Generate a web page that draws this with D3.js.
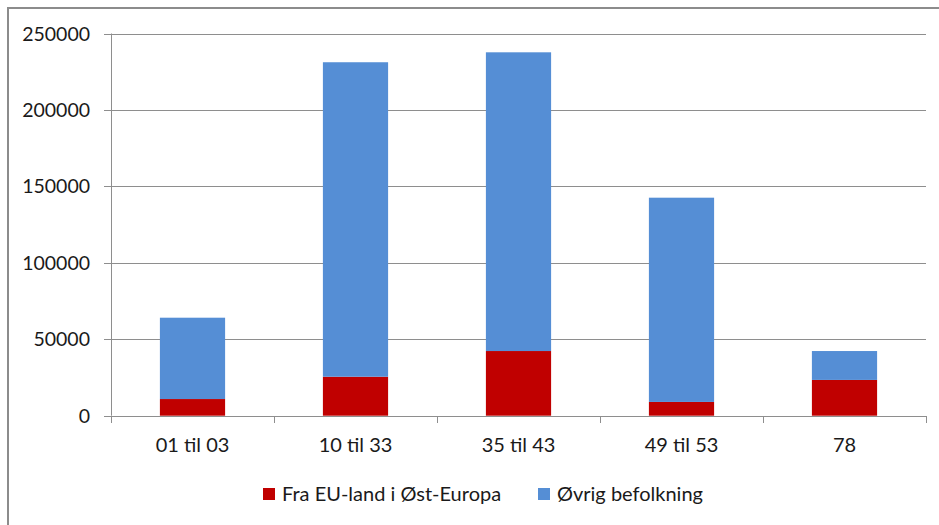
<!DOCTYPE html>
<html>
<head>
<meta charset="utf-8">
<script src="https://cdn.jsdelivr.net/npm/d3@7"></script>
<style>
  body { margin: 0; background: #fff; }
  svg text { font-family: Lato, "Open Sans", sans-serif; fill: #1a1a1a; }
</style>
</head>
<body>
<div id="chart"></div>
<script>
// data
const categories = ["01 til 03", "10 til 33", "35 til 43", "49 til 53", "78"];
const fraEU = [10900, 25500, 42300, 9000, 23400];
const ovrig = [53200, 205700, 195400, 133600, 18900];
const seriesNames = ["Fra EU-land i Øst-Europa", "Øvrig befolkning"];
const yTicks = [0, 50000, 100000, 150000, 200000, 250000];

const colors = ["#c00000", "#558ed5"];

const W = 939, H = 525;
const plot = {left: 111, right: 926, top: 33.5, bottom: 415.7};

const svg = d3.select("#chart").append("svg")
    .attr("width", W)
    .attr("height", H);

// outer frame (cropped on right and bottom)
svg.append("path")
    .attr("d", `M8,${H} L8,8 L${W},8`)
    .attr("fill", "none")
    .attr("stroke", "#8c8c8c")
    .attr("stroke-width", 2);

const x = d3.scaleBand()
    .domain(categories)
    .range([plot.left, plot.right])
    .paddingInner(0.6)
    .paddingOuter(0.3);

const y = d3.scaleLinear()
    .domain([0, 250000])
    .range([plot.bottom, plot.top]);

// gridlines
svg.append("g")
    .selectAll("line")
    .data(yTicks)
    .join("line")
    .attr("x1", plot.left - 7)
    .attr("x2", plot.right)
    .attr("y1", d => Math.round(y(d)) + 0.5)
    .attr("y2", d => Math.round(y(d)) + 0.5)
    .attr("stroke", "#8e8e8e")
    .attr("stroke-width", 1);

// y labels
svg.append("g")
    .selectAll("text")
    .data(yTicks)
    .join("text")
    .attr("x", 90)
    .attr("y", d => y(d))
    .attr("dy", "0.36em")
    .attr("text-anchor", "end")
    .attr("font-size", "19.5px")
    .text(d => d);

// stacked bars
const table = categories.map((c, i) => ({cat: c, a: fraEU[i], b: ovrig[i]}));
const stack = d3.stack().keys(["a", "b"])(table);

svg.append("g")
    .selectAll("g")
    .data(stack)
    .join("g")
    .attr("fill", (d, i) => colors[i])
    .selectAll("rect")
    .data(d => d)
    .join("rect")
    .attr("x", d => x(d.data.cat))
    .attr("width", x.bandwidth())
    .attr("y", d => y(d[1]))
    .attr("height", d => y(d[0]) - y(d[1]));

// axes lines
const step = x.step();
const bounds = d3.range(categories.length + 1).map(i => plot.left + i * step);
svg.append("line")
    .attr("x1", plot.left + 0.5).attr("x2", plot.left + 0.5)
    .attr("y1", plot.top).attr("y2", plot.bottom)
    .attr("stroke", "#8e8e8e");
svg.append("line")
    .attr("x1", plot.left - 7).attr("x2", plot.right)
    .attr("y1", Math.round(plot.bottom) + 0.5).attr("y2", Math.round(plot.bottom) + 0.5)
    .attr("stroke", "#8e8e8e");
svg.append("g")
    .selectAll("line")
    .data(bounds)
    .join("line")
    .attr("x1", d => Math.round(d) + 0.5)
    .attr("x2", d => Math.round(d) + 0.5)
    .attr("y1", Math.round(plot.bottom))
    .attr("y2", Math.round(plot.bottom) + 7)
    .attr("stroke", "#8e8e8e");

// category labels
svg.append("g")
    .selectAll("text")
    .data(categories)
    .join("text")
    .attr("x", d => x(d) + x.bandwidth() / 2)
    .attr("y", 452)
    .attr("text-anchor", "middle")
    .attr("font-size", "20px")
    .text(d => d);

// legend
const legendX = [263, 538];
const legend = svg.append("g")
    .selectAll("g")
    .data(seriesNames)
    .join("g")
    .attr("transform", (d, i) => `translate(${legendX[i]}, 488)`);
legend.append("rect")
    .attr("width", 12)
    .attr("height", 12)
    .attr("fill", (d, i) => colors[i]);
legend.append("text")
    .attr("x", 19)
    .attr("y", 13)
    .attr("font-size", "20px")
    .text(d => d);
</script>
</body>
</html>
